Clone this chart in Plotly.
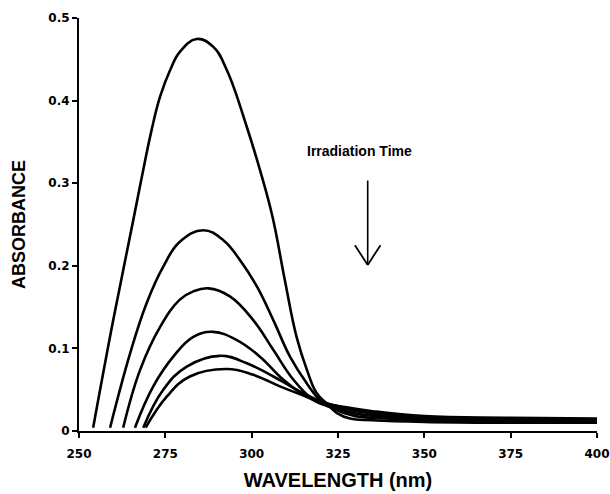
import plotly.graph_objects as go

# Wavelength (nm) and absorbance, one curve per irradiation time
wl_1 = [254.1, 259.9, 265.7, 268.6, 271.0, 273.5, 276.4, 279.2, 284.1, 288.9, 292.8, 298.6, 302.4, 306.0, 309.5, 313.0, 316.0, 318.8, 321.7, 324.6, 328.5, 335.0, 350.0, 375.0, 400.0]
ab_1 = [0.004, 0.134, 0.255, 0.316, 0.364, 0.405, 0.437, 0.459, 0.4746, 0.465, 0.437, 0.368, 0.316, 0.260, 0.185, 0.114, 0.074, 0.046, 0.0335, 0.022, 0.015, 0.013, 0.011, 0.010, 0.010]

wl_2 = [259.0, 264.8, 269.6, 274.4, 279.2, 286.0, 291.8, 296.6, 301.5, 306.3, 311.1, 315.9, 319.8, 323.5, 330.0, 340.0, 350.0, 375.0, 400.0]
ab_2 = [0.004, 0.094, 0.155, 0.199, 0.229, 0.243, 0.231, 0.207, 0.175, 0.134, 0.090, 0.058, 0.0375, 0.027, 0.018, 0.015, 0.013, 0.012, 0.011]

wl_3 = [262.8, 267.7, 273.5, 279.2, 283.1, 287.5, 293.7, 300.5, 306.3, 312.1, 317.9, 322.0, 330.0, 340.0, 350.0, 375.0, 400.0]
ab_3 = [0.004, 0.074, 0.126, 0.159, 0.169, 0.1727, 0.163, 0.134, 0.098, 0.062, 0.0375, 0.030, 0.021, 0.017, 0.014, 0.013, 0.012]

wl_4 = [266.2, 271.5, 277.3, 283.1, 288.9, 295.7, 302.4, 309.2, 315.9, 321.0, 330.0, 340.0, 350.0, 375.0, 400.0]
ab_4 = [0.004, 0.054, 0.090, 0.114, 0.120, 0.110, 0.090, 0.062, 0.0415, 0.032, 0.024, 0.019, 0.015, 0.014, 0.013]

wl_5 = [268.6, 274.4, 281.2, 290.8, 298.6, 306.3, 313.0, 320.0, 326.0, 335.0, 350.0, 375.0, 400.0]
ab_5 = [0.004, 0.050, 0.078, 0.091, 0.082, 0.066, 0.050, 0.036, 0.029, 0.023, 0.016, 0.015, 0.014]

wl_6 = [269.3, 275.4, 282.1, 292.8, 300.5, 308.2, 315.9, 321.0, 327.0, 335.0, 350.0, 375.0, 400.0]
ab_6 = [0.004, 0.0415, 0.066, 0.075, 0.068, 0.054, 0.0415, 0.034, 0.029, 0.024, 0.018, 0.016, 0.015]

curves = [(wl_1, ab_1), (wl_2, ab_2), (wl_3, ab_3), (wl_4, ab_4), (wl_5, ab_5), (wl_6, ab_6)]

x_ticks = [250, 275, 300, 325, 350, 375, 400]
y_ticks = [0, 0.1, 0.2, 0.3, 0.4, 0.5]
y_ticktext = ["0", "0.1", "0.2", "0.3", "0.4", "0.5"]

fig = go.Figure()
for wl, ab in curves:
    fig.add_trace(go.Scatter(x=wl, y=ab, mode="lines",
                             line=dict(color="black", width=2.6, shape="spline", smoothing=1.2),
                             showlegend=False, hoverinfo="skip"))

tick_font = dict(family="DejaVu Sans", size=12, color="black", weight="bold")

fig.update_layout(
    width=610, height=494,
    margin=dict(l=79, r=13, t=18, b=63, autoexpand=False),
    paper_bgcolor="white", plot_bgcolor="white",
    xaxis=dict(range=[250, 400], tickvals=x_ticks, ticks="outside", ticklen=5, tickwidth=2,
               tickcolor="black", showline=True, linewidth=2, linecolor="black",
               showgrid=False, zeroline=False, tickfont=tick_font, ticklabelstandoff=6,
               automargin=False,
               title=dict(text="WAVELENGTH (nm)", standoff=13,
                          font=dict(family="Liberation Sans, Arial", size=20, color="black", weight="bold"))),
    yaxis=dict(range=[0, 0.5], tickvals=y_ticks, ticktext=y_ticktext, ticks="outside", ticklen=5,
               tickwidth=2, tickcolor="black", showline=True, linewidth=2, linecolor="black",
               showgrid=False, zeroline=False, tickfont=tick_font, ticklabelstandoff=0,
               automargin=False,
               title=dict(text="ABSORBANCE", standoff=18,
                          font=dict(family="Liberation Sans, Arial", size=18, color="black", weight="bold"))),
)

fig.add_annotation(x=331.2, y=0.339, xref="x", yref="y", text="Irradiation Time",
                   showarrow=False, font=dict(family="Liberation Sans, Arial", size=14,
                                              color="black", weight="bold"))
# arrow shaft
fig.add_annotation(x=333.6, y=0.201, ax=333.6, ay=0.305, xref="x", yref="y", axref="x", ayref="y",
                   text="", showarrow=True, arrowhead=0, arrowwidth=1.6, arrowcolor="black")
# open arrow head
fig.add_shape(type="line", x0=329.9, y0=0.225, x1=333.6, y1=0.201, xref="x", yref="y",
              line=dict(color="black", width=1.8))
fig.add_shape(type="line", x0=337.3, y0=0.225, x1=333.6, y1=0.201, xref="x", yref="y",
              line=dict(color="black", width=1.8))

# remove the default page margin so the 610x494 figure fills the window exactly
fig.write_html("out.html", config={"displayModeBar": False},
               post_script="document.body.style.margin='0';"
                           "document.documentElement.style.overflow='hidden';")
